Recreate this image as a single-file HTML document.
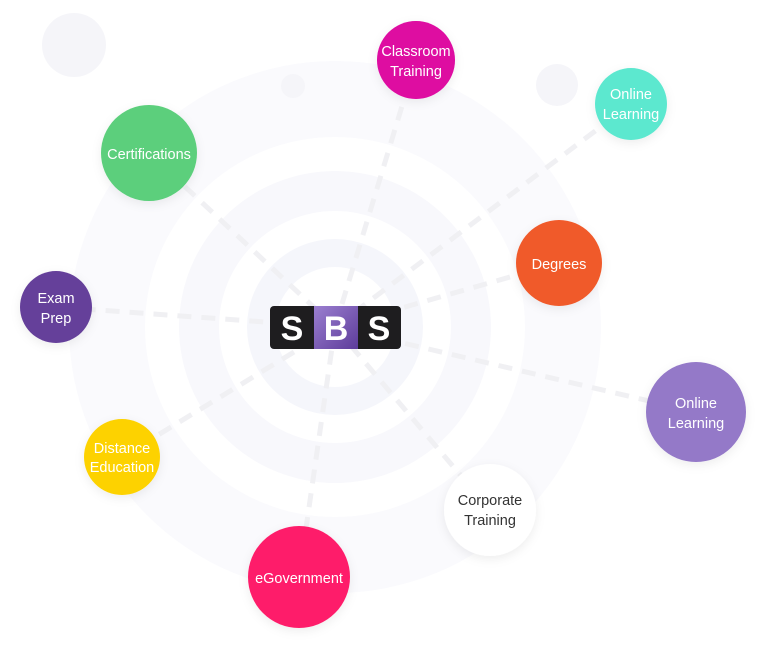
<!DOCTYPE html>
<html><head><meta charset="utf-8"><style>
html,body{margin:0;padding:0;background:#fff;}
svg{display:block}
text{font-family:"Liberation Sans",sans-serif;font-size:14.5px;text-anchor:middle;fill:#fff;}
</style></head><body>
<svg width="768" height="649" viewBox="0 0 768 649" xmlns="http://www.w3.org/2000/svg">
<defs>
<filter id="sh" x="-50%" y="-50%" width="200%" height="200%"><feDropShadow dx="0" dy="3" stdDeviation="5" flood-color="#000" flood-opacity="0.07"/></filter>
<linearGradient id="bg" x1="0" y1="0" x2="1" y2="1"><stop offset="0" stop-color="#9b7fd0"/><stop offset="1" stop-color="#5d3c9a"/></linearGradient>
</defs>
<rect width="768" height="649" fill="#fff"/>
<circle cx="335" cy="327" r="266" fill="#fafafd"/>
<circle cx="335" cy="327" r="190" fill="#fff"/>
<circle cx="335" cy="327" r="156" fill="#f8f8fc"/>
<circle cx="335" cy="327" r="116" fill="#fff"/>
<circle cx="335" cy="327" r="88" fill="#f5f6fb"/>
<circle cx="335" cy="327" r="60" fill="#fff"/>
<circle cx="74" cy="45" r="32" fill="#f5f5f9"/>
<circle cx="293" cy="86" r="12" fill="#f5f5f9"/>
<circle cx="557" cy="85" r="21" fill="#f5f5f9"/>
<g stroke="#f0f0f3" stroke-width="5" stroke-dasharray="14 10" fill="none">
<line x1="335" y1="327" x2="416" y2="60"/>
<line x1="335" y1="327" x2="631" y2="104"/>
<line x1="335" y1="327" x2="149" y2="153"/>
<line x1="335" y1="327" x2="559" y2="263"/>
<line x1="335" y1="327" x2="56" y2="307"/>
<line x1="335" y1="327" x2="696" y2="412"/>
<line x1="335" y1="327" x2="122" y2="457"/>
<line x1="335" y1="327" x2="490" y2="510"/>
<line x1="335" y1="327" x2="299" y2="577"/>
</g>
<g filter="url(#sh)">
<circle cx="416" cy="60" r="39" fill="#de07a1"/>
<circle cx="631" cy="104" r="36" fill="#5be8cf"/>
<circle cx="149" cy="153" r="48" fill="#5bcf7b"/>
<circle cx="559" cy="263" r="43" fill="#f05a2b"/>
<circle cx="56" cy="307" r="36" fill="#653f9a"/>
<circle cx="696" cy="412" r="50" fill="#9479c8"/>
<circle cx="122" cy="457" r="38" fill="#fdd200"/>
<circle cx="490" cy="510" r="46" fill="#fff"/>
<circle cx="299" cy="577" r="51" fill="#fe1f6a"/>
</g>
<text x="416" y="56">Classroom</text><text x="416" y="76">Training</text>
<text x="631" y="99">Online</text><text x="631" y="119">Learning</text>
<text x="149" y="159">Certifications</text>
<text x="559" y="269">Degrees</text>
<text x="56" y="303">Exam</text><text x="56" y="323">Prep</text>
<text x="696" y="408">Online</text><text x="696" y="428">Learning</text>
<text x="122" y="453">Distance</text><text x="122" y="472">Education</text>
<text x="490" y="505" style="fill:#333">Corporate</text><text x="490" y="525" style="fill:#333">Training</text>
<text x="299" y="583">eGovernment</text>
<rect x="270" y="306" width="131" height="43" rx="4" fill="#1e1d1f"/>
<rect x="314" y="306" width="44" height="43" fill="url(#bg)"/>
<text x="292" y="340" style="font-size:34px;font-weight:bold">S</text>
<text x="336" y="340" style="font-size:34px;font-weight:bold">B</text>
<text x="379" y="340" style="font-size:34px;font-weight:bold">S</text>
</svg>
</body></html>
